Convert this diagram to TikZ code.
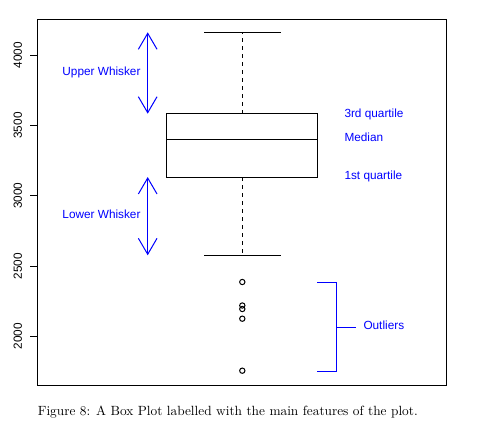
\documentclass[tikz,border=0pt]{standalone}
\usepackage{fontspec}
\setsansfont{Liberation Sans}
\usetikzlibrary{arrows.meta}
\begin{document}
\begin{tikzpicture}[x=0.75pt,y=-0.75pt,line width=0.75pt,
    >={Straight Barb[length=12pt,width=14pt]},
    note/.style={blue,font=\sffamily\fontsize{8.85}{10}\selectfont,inner sep=0pt},
    ticklab/.style={font=\sffamily\fontsize{8.85}{10}\selectfont,inner sep=0pt,rotate=90}]
  \useasboundingbox (0,0) rectangle (483,433);
  % plot frame and y axis
  \draw (37.3,19.3) rectangle (446.7,385);
  \foreach \v in {2000,2500,...,4000}{
    \pgfmathsetmacro\py{55.3+(4000-\v)*0.1405}
    \draw (37.3,\py) -- (30,\py);
    \node[ticklab] at (17.8,\py) {\v};
  }
  % box and whiskers
  \coordinate (Q3) at (166.7,113.5);
  \coordinate (Q1) at (317.3,177);
  \coordinate (top) at (242.3,32.3);
  \coordinate (bot) at (242.3,255.3);
  \draw (Q3) rectangle (Q1);
  \draw (166.7,139.3) -- (317.3,139.3);
  \draw [dash pattern=on 3pt off 3pt] (242.3,113.5) -- (top);
  \draw [dash pattern=on 3pt off 3pt] (242.3,177) -- (bot);
  \draw (204,32.3) -- (281,32.3);
  \draw (204,255.3) -- (281,255.3);
  \foreach \py in {282,305.5,309,318.7,370.7}
    \draw (242.3,\py) circle[radius=2pt];
  % labels
  \coordinate (UA) at (147.7,32.3);
  \coordinate (UB) at (147.7,113.7);
  \coordinate (LA) at (147.7,177);
  \coordinate (LB) at (147.7,255.3);
  \draw [<->, blue] (UA) -- (UB);
  \draw [<->, blue] (LA) -- (LB);
  \node[note, anchor=base east] (upper) at (141,75.7) {Upper Whisker};
  \node[note, anchor=base east] (lower) at (141,218.4) {Lower Whisker};
  \node[note, anchor=base west] (third) at (344,117.7) {3rd quartile};
  \node[note, anchor=base west] (median) at (344,141.7) {Median};
  \node[note, anchor=base west] (first) at (344,179) {1st quartile};
  \coordinate (OT) at (317.3,282.3);
  \coordinate (OB) at (317.3,371.3);
  \coordinate (OM) at (336.3,327.3);
  \draw [blue] (OT) -- (336.3,282.3) -- (336.3,371.3) -- (OB);
  \draw [blue] (OM) -- (355.7,327.3);
  \node[note, anchor=base west] (outl) at (363,329.7) {Outliers};
  % caption
  \node[anchor=base west, inner sep=0pt, font=\fontsize{10}{12}\selectfont] (cap)
    at (37.3,415.8) {Figure 8: A Box Plot labelled with the main features of the plot.};
\end{tikzpicture}
\end{document}
